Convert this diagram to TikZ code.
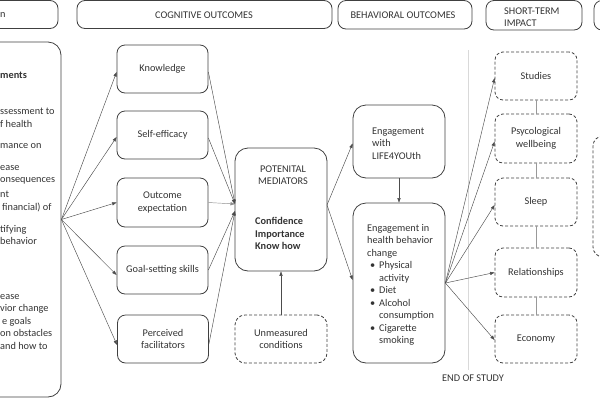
\documentclass[tikz,border=0pt]{standalone}
\usepackage{fontspec}
\setmainfont{Carlito}
\usetikzlibrary{arrows.meta}
\begin{document}
\begin{tikzpicture}[x=1pt,y=-1pt,
  font=\fontsize{10.3}{12.5}\selectfont,
  every node/.style={text=black!80},
  box/.style={draw=black!75, line width=0.8pt, rounded corners=8pt, inner sep=0pt, align=center},
  bigbox/.style={box, rounded corners=13pt},
  dbox/.style={box, dash pattern=on 3pt off 2pt},
  txt/.style={inner sep=0pt, align=left},
  arr/.style={draw=black!70, line width=0.45pt, -{Triangle[length=4.5pt,width=3.2pt]}},
  link/.style={draw=black!40, line width=0.6pt},
]
\useasboundingbox (0,0) rectangle (600,400);

% header boxes
\node[box, minimum width=80pt, minimum height=28pt] (h1) at (18,14.5) {};
\node[txt, anchor=west] (h1t) at (0,15) {n};
\node[box, minimum width=255pt, minimum height=28pt] (h2) at (204.5,14.5) {};
\node[txt] (h2t) at (204,15) {COGNITIVE OUTCOMES};
\node[box, minimum width=134pt, minimum height=28.5pt] (h3) at (405,14.75) {};
\node[txt] (h3t) at (403,15) {BEHAVIORAL OUTCOMES};
\node[box, minimum width=96pt, minimum height=29.5pt] (h4) at (534,15.25) {};
\node[txt, anchor=west] (h4t) at (504,17) {SHORT-TERM\\IMPACT};
\node[box, minimum width=40pt, minimum height=29.5pt] (h5) at (614,15.25) {};

% left big box
\node[bigbox, minimum width=96pt, minimum height=355pt] (left) at (13,219.5) {};
\node[txt, anchor=west, font=\fontsize{10.3}{12.5}\selectfont\bfseries] (l0) at (0,75) {ments};
\node[txt, anchor=north west] (l1) at (0,108) {ssessment to\\f health};
\node[txt, anchor=north west] (l2) at (0,143) {mance on};
\node[txt, anchor=north west] (l3) at (0,165) {ease\\onsequences};
\node[txt, anchor=north west] (l4) at (0,191) {nt\\\hspace*{2pt}financial) of};
\node[txt, anchor=north west] (l5) at (0,225) {tifying\\behavior};
\node[txt, anchor=north west] (l6) at (0,294) {ease\\vior change\\\hspace*{2pt}e goals\\on obstacles\\and how to};

% cognitive outcomes
\node[box, minimum width=91pt, minimum height=48pt] (know) at (162.5,69) {Knowledge};
\node[box, minimum width=91pt, minimum height=48pt] (self) at (162.5,135) {Self-efficacy};
\node[box, minimum width=91pt, minimum height=49pt] (outc) at (162.5,202.5) {Outcome\\expectation};
\node[box, minimum width=91pt, minimum height=48pt] (goal) at (162.5,270) {Goal-setting skills};
\node[box, minimum width=91pt, minimum height=48pt] (perc) at (163,339) {Perceived\\facilitators};

% mediators
\node[bigbox, minimum width=92pt, minimum height=123pt] (med) at (281,209.5) {};
\node[txt, align=center] (medt) at (283,175) {POTENITAL\\MEDIATORS};
\node[txt, anchor=north west, font=\fontsize{10.3}{12.5}\selectfont\bfseries] (medb) at (255,217.5) {Confidence\\Importance\\Know how};
\node[dbox, rounded corners=10pt, minimum width=92pt, minimum height=48pt] (unm) at (281,339) {Unmeasured\\conditions};

% behavioral outcomes
\node[bigbox, minimum width=92pt, minimum height=73pt] (ew) at (399,141.5) {};
\node[txt, anchor=west] (ewt) at (372,143.5) {Engagement\\with\\LIFE4YOUth};
\node[bigbox, minimum width=92pt, minimum height=160pt] (ei) at (399,283) {};
\node[txt, anchor=north west] (eit) at (367,224) {Engagement in\\health behavior\\change\\
\hspace*{3pt}\makebox[9pt][l]{\textbullet}Physical\\\hspace*{12pt}activity\\
\hspace*{3pt}\makebox[9pt][l]{\textbullet}Diet\\
\hspace*{3pt}\makebox[9pt][l]{\textbullet}Alcohol\\\hspace*{12pt}consumption\\
\hspace*{3pt}\makebox[9pt][l]{\textbullet}Cigarette\\\hspace*{12pt}smoking};

% end of study
\coordinate (eosTop) at (468,50);
\node[txt] (eos) at (473,378) {END OF STUDY};
\draw[draw=black!15, line width=0.6pt] (eosTop) -- (eosTop |- 0,370);

% short-term impact
\node[dbox, minimum width=82pt, minimum height=48pt] (stud) at (536,76) {Studies};
\node[dbox, minimum width=82pt, minimum height=49pt] (psy) at (536,138.5) {Psycological\\wellbeing};
\node[dbox, minimum width=82pt, minimum height=48pt] (sleep) at (536,202) {Sleep};
\node[dbox, minimum width=82pt, minimum height=49pt] (rel) at (536,272.5) {Relationships};
\node[dbox, minimum width=82pt, minimum height=48pt] (eco) at (536,339) {Economy};
\node[dbox, rounded corners=10pt, minimum width=40pt, minimum height=121pt] (rbox) at (613,196.5) {};

\draw[link] (stud) -- (psy);
\draw[link] (psy) -- (sleep);
\draw[link] (sleep) -- (rel);
\draw[link] (rel) -- (eco);

% arrows from left box
\draw[arr] (left.east) -- ([yshift=-3pt]know.west);
\draw[arr] (left.east) -- ([yshift=-2pt]self.west);
\draw[arr] (left.east) -- (outc.west);
\draw[arr] (left.east) -- ([yshift=-5pt]goal.west);
\draw[arr] (left.east) -- ([yshift=-6pt]perc.west);

% to mediators
\coordinate (m1) at (235,204);
\coordinate (m2) at (235,211);
\draw[arr] ([yshift=-3pt]know.east) -- (m1);
\draw[arr] ([yshift=-3pt]self.east) -- (m1);
\draw[arr, draw=black!45] (outc.east) -- (m1);
\draw[arr] (goal.east) -- (m2);
\draw[arr] ([yshift=-5pt]perc.east) -- (m2);
\draw[arr] (unm.north) -- (med.south);

% mediators to behaviours
\coordinate (mo) at (327,205);
\draw[arr] (mo) -- ([yshift=-2pt]ew.west);
\draw[arr] (mo) -- ([yshift=3pt]ei.west);
\draw[arr] (ew.south) -- (ei.north);

% behaviours to impacts
\draw[arr] (ei.east) -- ([yshift=-2pt]stud.west);
\draw[arr] (ei.east) -- ([yshift=-3pt]psy.west);
\draw[arr] (ei.east) -- ([yshift=-3pt]sleep.west);
\draw[arr] (ei.east) -- (rel.west);
\draw[arr] (ei.east) -- ([yshift=-1pt]eco.west);
\end{tikzpicture}
\end{document}
